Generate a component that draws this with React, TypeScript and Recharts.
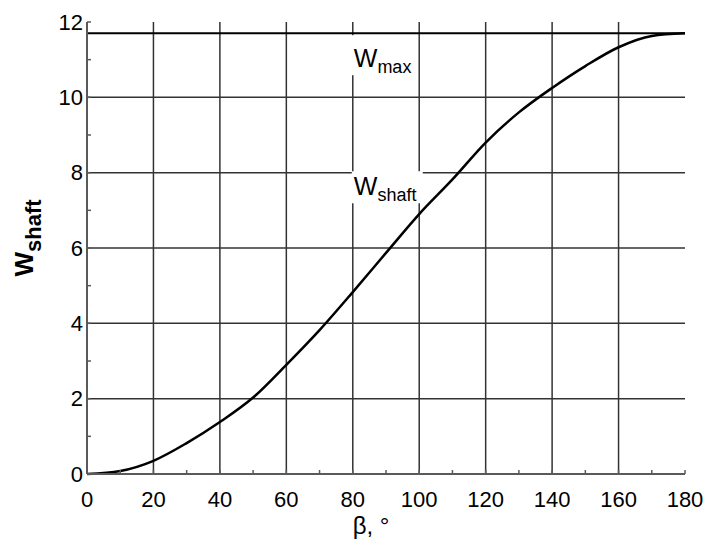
import React from "react";
import { LineChart, Line, XAxis, YAxis, CartesianGrid, ReferenceLine, ReferenceDot } from "recharts";

// β, degrees
const beta = [0, 10, 20, 30, 40, 50, 60, 70, 80, 90, 100, 110, 120, 130, 140, 150, 160, 170, 180];
// W_shaft
const wShaft = [0, 0.08, 0.35, 0.82, 1.38, 2.03, 2.9, 3.82, 4.83, 5.87, 6.9, 7.82, 8.8, 9.6, 10.25, 10.83, 11.33, 11.63, 11.7];
const wMax = 11.7;

const xTicks = [0, 10, 20, 30, 40, 50, 60, 70, 80, 90, 100, 110, 120, 130, 140, 150, 160, 170, 180];
const xLabels = [0, 20, 40, 60, 80, 100, 120, 140, 160, 180];
const yTicks = [0, 1, 2, 3, 4, 5, 6, 7, 8, 9, 10, 11, 12];
const yLabels = [0, 2, 4, 6, 8, 10, 12];
const xGrid = [20, 40, 60, 80, 100, 120, 140, 160];
const yGrid = [2, 4, 6, 8, 10];

const data = beta.map((b, i) => ({ beta: b, w: wShaft[i] }));

const FONT = "'Liberation Sans', Arial, sans-serif";
const FRAME = "#5a5a5a";
const GRID = "#333";
const TICK = 4;

const BottomTick = ({ x, y, payload }: any) => (
  <g>
    <line x1={x} y1={y} x2={x} y2={y - TICK} stroke={FRAME} strokeWidth={1.5} />
    {xLabels.includes(payload.value) && (
      <text x={x} y={y + 33} textAnchor="middle" fontFamily={FONT} fontSize={22} fill="#000">
        {payload.value}
      </text>
    )}
  </g>
);

const TopTick = ({ x, y }: any) => <line x1={x} y1={y} x2={x} y2={y + TICK} stroke={FRAME} strokeWidth={1.5} />;

const LeftTick = ({ x, y, payload }: any) => (
  <g>
    <line x1={x} y1={y} x2={x + TICK} y2={y} stroke={FRAME} strokeWidth={1.5} />
    {yLabels.includes(payload.value) && (
      <text x={x - 4} y={y} textAnchor="end" dominantBaseline="central" fontFamily={FONT} fontSize={22} fill="#000">
        {payload.value}
      </text>
    )}
  </g>
);

const RightTick = ({ x, y }: any) => <line x1={x} y1={y} x2={x - TICK} y2={y} stroke={FRAME} strokeWidth={1.5} />;

const YTitle = ({ viewBox }: any) => {
  const cx = viewBox.x + 33;
  const cy = viewBox.y + viewBox.height / 2 - 10;
  return (
    <text x={cx} y={cy} transform={`rotate(-90 ${cx} ${cy})`} textAnchor="middle" fontFamily={FONT} fontWeight="bold" fill="#000">
      <tspan fontSize={26}>W</tspan>
      <tspan fontSize={22} dy={8}>shaft</tspan>
    </text>
  );
};

const XTitle = ({ viewBox }: any) => (
  <text x={viewBox.x + viewBox.width / 2 - 15} y={viewBox.y + 60} textAnchor="middle" fontFamily={FONT} fontSize={24} fill="#000">
    β, °
  </text>
);

const Tag = ({ cx, cy, main, sub, box }: any) => (
  <g>
    <rect x={cx + box[0]} y={cy + box[1]} width={box[2]} height={box[3]} fill="#fff" />
    <text x={cx + 1} y={cy} fontFamily={FONT} fill="#000">
      <tspan fontSize={25}>{main}</tspan>
      <tspan fontSize={18} dy={6}>{sub}</tspan>
    </text>
  </g>
);

export default function App() {
  return (
    <div style={{ position: "absolute", left: 0, top: 0, background: "#fff" }}>
      <LineChart width={707} height={541} data={data} margin={{ top: 22, right: 22, bottom: 0, left: 0 }}>
        <CartesianGrid
          xAxisId="b"
          yAxisId="l"
          verticalValues={xGrid}
          horizontalValues={yGrid}
          stroke={GRID}
          strokeWidth={1.5}
        />
        <XAxis
          xAxisId="b"
          dataKey="beta"
          type="number"
          domain={[0, 180]}
          ticks={xTicks}
          interval={0}
          height={67}
          tickSize={0}
          tickMargin={0}
          tickLine={false}
          axisLine={{ stroke: FRAME, strokeWidth: 2 }}
          tick={<BottomTick />}
          label={<XTitle />}
        />
        <XAxis
          xAxisId="t"
          orientation="top"
          dataKey="beta"
          type="number"
          domain={[0, 180]}
          ticks={xTicks}
          interval={0}
          height={0}
          tickSize={0}
          tickMargin={0}
          tickLine={false}
          axisLine={{ stroke: FRAME, strokeWidth: 2 }}
          tick={<TopTick />}
        />
        <YAxis
          yAxisId="l"
          type="number"
          domain={[0, 12]}
          ticks={yTicks}
          interval={0}
          width={87}
          tickSize={0}
          tickMargin={0}
          tickLine={false}
          axisLine={{ stroke: FRAME, strokeWidth: 2 }}
          tick={<LeftTick />}
          label={<YTitle />}
        />
        <YAxis
          yAxisId="r"
          orientation="right"
          type="number"
          domain={[0, 12]}
          ticks={yTicks}
          interval={0}
          width={0}
          tickSize={0}
          tickMargin={0}
          tickLine={false}
          axisLine={{ stroke: FRAME, strokeWidth: 2 }}
          tick={<RightTick />}
        />
        <ReferenceLine xAxisId="b" yAxisId="l" y={wMax} stroke="#000" strokeWidth={2} />
        <ReferenceDot
          xAxisId="b"
          yAxisId="l"
          x={80}
          y={10.8}
          shape={(p: any) => <Tag cx={p.cx} cy={p.cy} main="W" sub="max" box={[-5, -32, 65, 40]} />}
        />
        <ReferenceDot
          xAxisId="b"
          yAxisId="l"
          x={80}
          y={7.4}
          shape={(p: any) => <Tag cx={p.cx} cy={p.cy} main="W" sub="shaft" box={[-1, -24, 71, 32]} />}
        />
        <Line
          xAxisId="b"
          yAxisId="l"
          type="monotone"
          dataKey="w"
          stroke="#000"
          strokeWidth={2.5}
          dot={false}
          isAnimationActive={false}
        />
      </LineChart>
    </div>
  );
}
